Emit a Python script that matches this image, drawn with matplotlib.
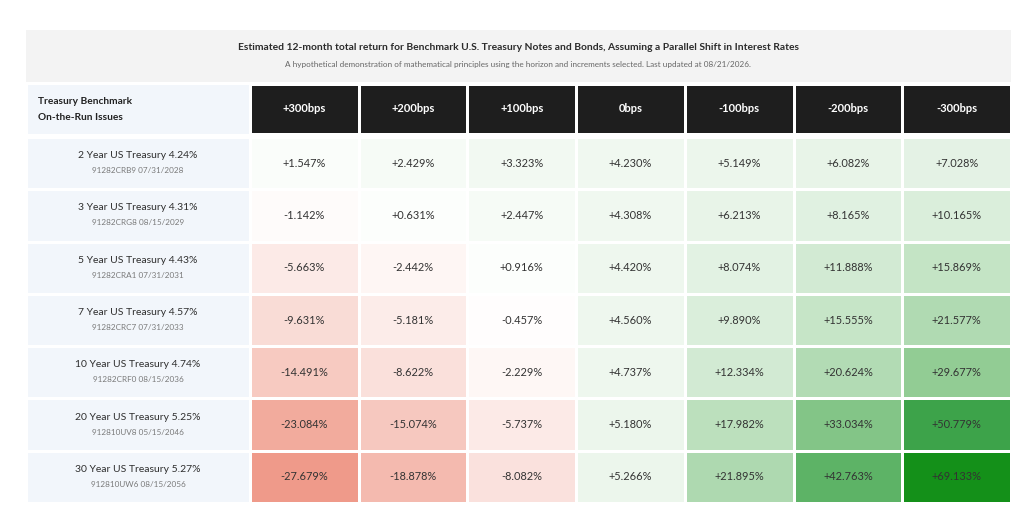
import numpy as np
import matplotlib
matplotlib.use("Agg")
import matplotlib.pyplot as plt
from matplotlib.colors import LinearSegmentedColormap, TwoSlopeNorm, ListedColormap

plt.rcParams['font.family'] = ['Lato', 'DejaVu Sans']

# datos
titulo = "Estimated 12-month total return for Benchmark U.S. Treasury Notes and Bonds, Assuming a Parallel Shift in Interest Rates"
subtitulo = "A hypothetical demonstration of mathematical principles using the horizon and increments selected. Last updated at 08/21/2026."
cabecera_izq = "Treasury Benchmark\nOn-the-Run Issues"

escenarios = ["+300bps", "+200bps", "+100bps", "0bps", "-100bps", "-200bps", "-300bps"]
bonos = ["2 Year US Treasury 4.24%", "3 Year US Treasury 4.31%", "5 Year US Treasury 4.43%",
         "7 Year US Treasury 4.57%", "10 Year US Treasury 4.74%", "20 Year US Treasury 5.25%",
         "30 Year US Treasury 5.27%"]
cusips = ["91282CRB9 07/31/2028", "91282CRG8 08/15/2029", "91282CRA1 07/31/2031",
          "91282CRC7 07/31/2033", "91282CRF0 08/15/2036", "912810UV8 05/15/2046",
          "912810UW6 08/15/2056"]

ret_2y = [1.547, 2.429, 3.323, 4.230, 5.149, 6.082, 7.028]
ret_3y = [-1.142, 0.631, 2.447, 4.308, 6.213, 8.165, 10.165]
ret_5y = [-5.663, -2.442, 0.916, 4.420, 8.074, 11.888, 15.869]
ret_7y = [-9.631, -5.181, -0.457, 4.560, 9.890, 15.555, 21.577]
ret_10y = [-14.491, -8.622, -2.229, 4.737, 12.334, 20.624, 29.677]
ret_20y = [-23.084, -15.074, -5.737, 5.180, 17.982, 33.034, 50.779]
ret_30y = [-27.679, -18.878, -8.082, 5.266, 21.895, 42.763, 69.133]

valores = np.array([ret_2y, ret_3y, ret_5y, ret_7y, ret_10y, ret_20y, ret_30y])

# layout en pixeles
W, H = 1024, 531
izq, x_tabla, der = 26, 250, 1011
y_head0, y_head1 = 84, 134
y_dat0, y_dat1 = 137, 503
n_f, n_c = valores.shape

fig = plt.figure(figsize=(W / 100, H / 100), dpi=100)
fig.patch.set_facecolor("white")
ax = fig.add_axes([0, 0, 1, 1])
ax.set_xlim(0, W)
ax.set_ylim(H, 0)
ax.axis("off")

gap = 1.9  # grosor de linea blanca entre celdas (pt)

# panel del titulo
ax.add_patch(plt.Rectangle((izq, 30), der - izq, 52, color="#f3f3f3", lw=0))
ax.text(518, 47, titulo, ha="center", va="center", fontsize=7.4, fontweight="bold", color="#2b2b2b")
ax.text(518, 65, subtitulo, ha="center", va="center", fontsize=5.9, color="#666666")

xs = np.linspace(x_tabla, der, n_c + 1)
ys = np.linspace(y_dat0, y_dat1, n_f + 1)

# cabecera negra
ax.pcolormesh(xs, [y_head0, y_head1], np.ones((1, n_c)), cmap=ListedColormap(["#1e1e1e"]),
              edgecolors="white", linewidth=gap)
for j, e in enumerate(escenarios):
    ax.text((xs[j] + xs[j + 1]) / 2, (y_head0 + y_head1) / 2, e, ha="center", va="center",
            fontsize=8, fontweight="bold", color="white")

# columna de etiquetas
ax.pcolormesh([izq, x_tabla], [y_head0 - 1, y_head1 + 1], np.ones((1, 1)), cmap=ListedColormap(["#f2f6fb"]),
              edgecolors="white", linewidth=gap)
ax.text(izq + 12, (y_head0 + y_head1) / 2 + 1, cabecera_izq, ha="left", va="center",
        fontsize=7.3, fontweight="bold", color="#222222", linespacing=2.0)
ax.pcolormesh([izq, x_tabla], ys, np.ones((n_f, 1)), cmap=ListedColormap(["#f2f6fb"]),
              edgecolors="white", linewidth=gap)
for i in range(n_f):
    yc = (ys[i] + ys[i + 1]) / 2
    ax.text((izq + x_tabla) / 2, yc - 7.5, bonos[i], ha="center", va="center", fontsize=7.5, color="#2e2e2e")
    ax.text((izq + x_tabla) / 2, yc + 7.5, cusips[i], ha="center", va="center", fontsize=5.9, color="#7a7a7a")

# mapa de calor
cmap = LinearSegmentedColormap.from_list("rdgn", [
    (0.0, "#ef9a8a"), (0.5, "#ffffff"), (0.72, "#8fcb91"), (0.87, "#3da34a"), (1.0, "#149019")])
norm = TwoSlopeNorm(vmin=valores.min(), vcenter=0, vmax=valores.max())
ax.pcolormesh(xs, ys, valores, cmap=cmap, norm=norm, edgecolors="white", linewidth=gap)
for i in range(n_f):
    for j in range(n_c):
        ax.text((xs[j] + xs[j + 1]) / 2, (ys[i] + ys[i + 1]) / 2, f"{valores[i, j]:+.3f}%",
                ha="center", va="center", fontsize=7.9, color="#333333")

fig.savefig("out.png", dpi=100)
